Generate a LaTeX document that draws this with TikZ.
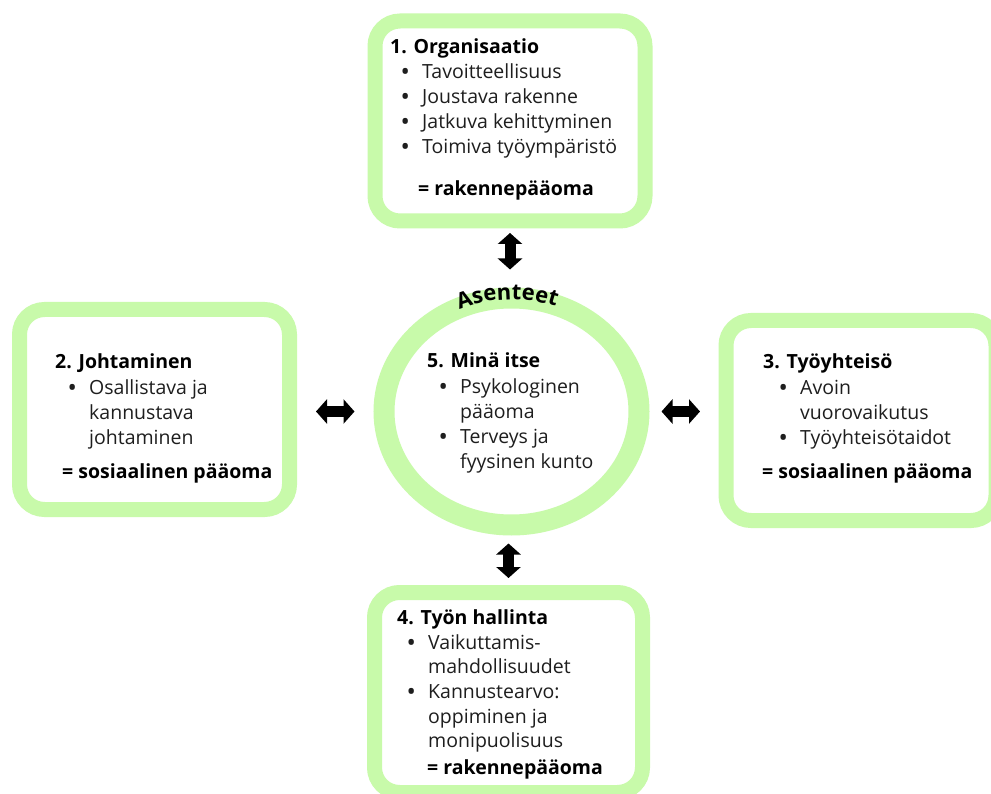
\documentclass[tikz,border=0pt]{standalone}
\usepackage{fontspec}
\setmainfont{Open Sans}
\usetikzlibrary{shapes.geometric,arrows.meta,decorations.text}
\definecolor{ringgreen}{RGB}{200,250,170}
\definecolor{bodytext}{RGB}{30,30,30}
\newcommand\tline[4]{\node[txt] (#1) at (#2,-#3-1) {#4};}
\newcommand\headline[4]{\node[txt,font=\fontsize{19.5}{24}\selectfont\bfseries,text=black] (#1) at (#2,-#3-1) {#4};}
\newcommand\bline[4]{\node[txt] (#1) at (#2,-#3-1) {\llap{\makebox[0pt][c]{\bfseries •}\hspace{17pt}}#4};}
\begin{document}
\begin{tikzpicture}[x=1pt,y=1pt,
  gbox/.style={draw=ringgreen,line width=15pt,rounded corners=25pt,fill=white,inner sep=0pt},
  txt/.style={anchor=base west,inner sep=0pt,font=\fontsize{19.5}{24}\selectfont,text=bodytext},
  dblarrow/.style={line width=11pt,{Triangle[width=24pt,length=11pt]}-{Triangle[width=24pt,length=11pt]}}]
\useasboundingbox (0,0) rectangle (991,-794);
\clip (0,0) rectangle (991,-794);
\fill[white] (0,0) rectangle (991,-794);

% boxes
\node[gbox,minimum width=270pt,minimum height=200pt] (b1) at (510,-121) {};
\node[gbox,minimum width=270pt,minimum height=200pt] (b2) at (154.5,-409.5) {};
\node[gbox,minimum width=270pt,minimum height=200pt] (b3) at (861,-420.5) {};
\node[gbox,minimum width=268pt,minimum height=200pt] (b4) at (508.5,-692.5) {};
\node[draw=ringgreen,line width=21pt,ellipse,fill=white,inner sep=0pt,
      minimum width=255pt,minimum height=227pt] (circ) at (511.5,-411.5) {};

% curved label
\path[decorate,decoration={text along path,text align=center,
   text={|\fontsize{22}{22}\selectfont\bfseries|Asenteet}}]
   (511.5,-411.5) ++(147:127 and 112) arc[start angle=147,end angle=37,x radius=127,y radius=112];

% arrows
\draw[dblarrow,shorten <=4.5pt,shorten >=18pt] (b1.south) -- (b1.south |- circ.north);
\draw[dblarrow,shorten <=8pt,shorten >=7pt] (b4.north |- circ.south) -- (b4.north);
\draw[dblarrow,shorten <=19pt,shorten >=19pt] (b2.east |- circ.west) -- (circ.west);
\draw[dblarrow,shorten <=12pt,shorten >=18.5pt] (circ.east) -- (circ.east -| b3.west);

% box 1
\headline{t1h}{390}{53}{1. Organisaatio}
\bline{t1a}{422}{78}{Tavoitteellisuus}
\bline{t1b}{422}{103}{Joustava rakenne}
\bline{t1c}{422}{128}{Jatkuva kehittyminen}
\bline{t1d}{422}{153}{Toimiva työympäristö}
\headline{t1e}{418}{195}{= rakennepääoma}

% box 2
\headline{t2h}{55}{368}{2. Johtaminen}
\bline{t2a}{89}{393}{Osallistava ja}
\tline{t2b}{89}{418}{kannustava}
\tline{t2c}{89}{443}{johtaminen}
\headline{t2e}{62}{477}{= sosiaalinen pääoma}

% box 3
\headline{t3h}{763}{368}{3. Työyhteisö}
\bline{t3a}{800}{393}{Avoin}
\tline{t3b}{800}{418}{vuorovaikutus}
\bline{t3c}{800}{443}{Työyhteisötaidot}
\headline{t3e}{762}{477}{= sosiaalinen pääoma}

% circle
\headline{t5h}{427}{367}{5. Minä itse}
\bline{t5a}{460}{392}{Psykologinen}
\tline{t5b}{460}{417}{pääoma}
\bline{t5c}{460}{442}{Terveys ja}
\tline{t5d}{460}{467}{fyysinen kunto}

% box 4
\headline{t4h}{397}{623}{4. Työn hallinta}
\bline{t4a}{428}{648}{Vaikuttamis-}
\tline{t4b}{428}{672}{mahdollisuudet}
\bline{t4c}{428}{697}{Kannustearvo:}
\tline{t4d}{428}{722}{oppiminen ja}
\tline{t4e}{428}{746}{monipuolisuus}
\headline{t4f}{427}{773}{= rakennepääoma}
\end{tikzpicture}
\end{document}
